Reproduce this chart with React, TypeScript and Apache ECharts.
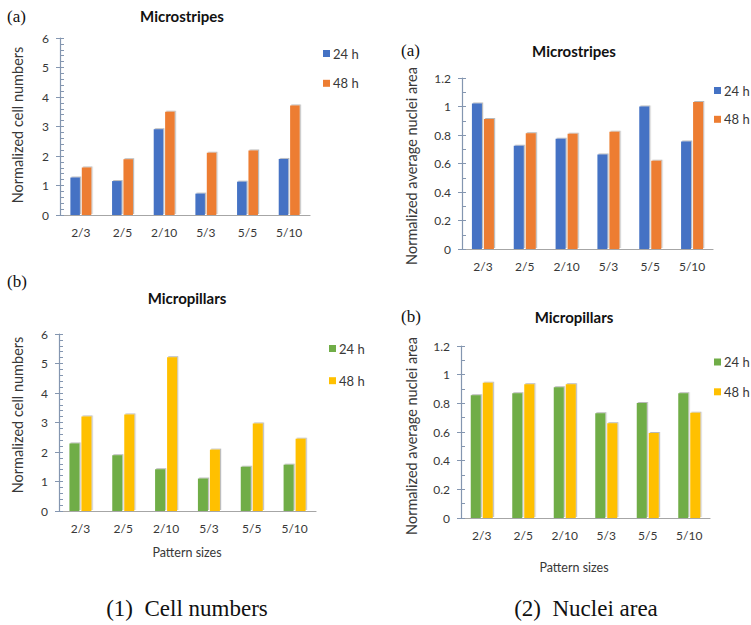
import React, { useEffect, useRef } from "react";
import * as echarts from "echarts";

const categories = ["2/3", "2/5", "2/10", "5/3", "5/5", "5/10"];
const seriesNames = ["24 h", "48 h"];

const cellStripes24 = [1.27, 1.15, 2.91, 0.725, 1.13, 1.9];
const cellStripes48 = [1.61, 1.89, 3.5, 2.11, 2.19, 3.71];
const cellPillars24 = [2.29, 1.89, 1.415, 1.1, 1.5, 1.57];
const cellPillars48 = [3.2, 3.27, 5.21, 2.08, 2.97, 2.45];
const nucStripes24 = [1.021, 0.725, 0.774, 0.664, 1.0, 0.755];
const nucStripes48 = [0.913, 0.812, 0.809, 0.822, 0.62, 1.031];
const nucPillars24 = [0.856, 0.87, 0.912, 0.731, 0.802, 0.87];
const nucPillars48 = [0.944, 0.933, 0.933, 0.661, 0.593, 0.735];

const cellTicks = { min: 0, max: 6, interval: 1, minorSplit: 5 };
const nucTicks = { min: 0, max: 1.2, interval: 0.2, minorSplit: 2 };

const BLUE = "#4472C4";
const ORANGE = "#ED7D31";
const GREEN = "#70AD47";
const YELLOW = "#FFC000";

const SANS = "Lato, 'Noto Sans', sans-serif";
const SERIF = "'Liberation Serif', 'DejaVu Serif', serif";
const TXT = "#383838";

type Panel = {
  grid: { left: number; top: number; width: number; height: number };
  ticks: typeof cellTicks;
  s24: number[];
  s48: number[];
  c24: string;
  c48: string;
  barWidth: number;
  legend: { left: number; top: number; gap: number };
};

const panels: Panel[] = [
  {
    grid: { left: 60, top: 38, width: 250, height: 177 },
    ticks: cellTicks,
    s24: cellStripes24,
    s48: cellStripes48,
    c24: BLUE,
    c48: ORANGE,
    barWidth: 9.5,
    legend: { left: 323, top: 47, gap: 16.8 },
  },
  {
    grid: { left: 462, top: 78, width: 251, height: 171 },
    ticks: nucTicks,
    s24: nucStripes24,
    s48: nucStripes48,
    c24: BLUE,
    c48: ORANGE,
    barWidth: 10,
    legend: { left: 714, top: 84, gap: 15.8 },
  },
  {
    grid: { left: 59, top: 334, width: 257, height: 177 },
    ticks: cellTicks,
    s24: cellPillars24,
    s48: cellPillars48,
    c24: GREEN,
    c48: YELLOW,
    barWidth: 10,
    legend: { left: 329, top: 342, gap: 19.2 },
  },
  {
    grid: { left: 461, top: 346, width: 249, height: 172 },
    ticks: nucTicks,
    s24: nucPillars24,
    s48: nucPillars48,
    c24: GREEN,
    c48: YELLOW,
    barWidth: 10,
    legend: { left: 714, top: 355.5, gap: 16.8 },
  },
];

const panelTitles = [
  { text: "Microstripes", x: 182, y: 16 },
  { text: "Microstripes", x: 574, y: 51 },
  { text: "Micropillars", x: 187, y: 298 },
  { text: "Micropillars", x: 574, y: 317 },
];
const panelLetters = [
  { text: "(a)", x: 7, y: 16 },
  { text: "(a)", x: 401, y: 50 },
  { text: "(b)", x: 7, y: 281 },
  { text: "(b)", x: 401, y: 316 },
];
const yTitles = [
  { text: "Normalized cell numbers", x: 17, y: 125 },
  { text: "Normalized average nuclei area", x: 411, y: 166 },
  { text: "Normalized cell numbers", x: 17, y: 415 },
  { text: "Normalized average nuclei area", x: 411, y: 436 },
];
const xTitles = [
  { text: "Pattern sizes", x: 187, y: 552 },
  { text: "Pattern sizes", x: 574, y: 567 },
];
const captions = [
  { text: "(1)  Cell numbers", x: 187, y: 608 },
  { text: "(2)  Nuclei area", x: 586, y: 608 },
];

function buildOption() {
  const grid: any[] = [];
  const xAxis: any[] = [];
  const yAxis: any[] = [];
  const series: any[] = [];
  const legend: any[] = [];

  panels.forEach((p, i) => {
    grid.push({ ...p.grid, containLabel: false });
    xAxis.push({
      type: "category",
      gridIndex: i,
      data: categories,
      axisLine: { show: true, lineStyle: { color: "#A6A6A6", width: 1.2 } },
      axisTick: { show: false },
      axisLabel: { color: TXT, fontFamily: SANS, fontSize: 12, margin: 11 },
      splitLine: { show: false },
    });
    yAxis.push({
      type: "value",
      gridIndex: i,
      min: p.ticks.min,
      max: p.ticks.max,
      interval: p.ticks.interval,
      axisLine: { show: true, lineStyle: { color: "#8496B0", width: 1.2 } },
      axisTick: { show: true, inside: true, length: 4, lineStyle: { color: "#8496B0" } },
      minorTick: {
        show: true,
        splitNumber: p.ticks.minorSplit,
        length: 4,
        lineStyle: { color: "#8496B0" },
      },
      axisLabel: { color: TXT, fontFamily: SANS, fontSize: 12, margin: 11 },
      splitLine: { show: false },
      minorSplitLine: { show: false },
    });
    yAxis.push({
      type: "value",
      gridIndex: i,
      position: "left",
      min: p.ticks.min,
      max: p.ticks.max,
      interval: p.ticks.interval,
      axisLine: { show: false },
      axisTick: { show: true, inside: false, length: 4, lineStyle: { color: "#8496B0" } },
      axisLabel: { show: false },
      splitLine: { show: false },
    });
    const mk = (name: string, data: number[], color: string) => ({
      type: "bar",
      name,
      xAxisIndex: i,
      yAxisIndex: i * 2,
      data,
      barWidth: p.barWidth,
      barGap: "20%",
      itemStyle: {
        color,
        shadowColor: "rgba(0,0,0,0.28)",
        shadowOffsetX: 1.2,
        shadowOffsetY: -1,
        shadowBlur: 0.5,
      },
    });
    series.push(mk(seriesNames[0], p.s24, p.c24));
    series.push(mk(seriesNames[1], p.s48, p.c48));
    legend.push({
      orient: "vertical",
      left: p.legend.left,
      top: p.legend.top,
      padding: 0,
      itemWidth: 7,
      itemHeight: 7,
      itemGap: p.legend.gap,
      icon: "rect",
      selectedMode: false,
      textStyle: {
        color: TXT,
        fontFamily: SANS,
        fontSize: 13,
        padding: [0, 0, 0, -2],
      },
      data: [
        { name: seriesNames[0], itemStyle: { color: p.c24 } },
        { name: seriesNames[1], itemStyle: { color: p.c48 } },
      ],
    });
  });

  const graphic: any[] = [];
  panelTitles.forEach((t) =>
    graphic.push({
      type: "text",
      x: t.x,
      y: t.y,
      style: {
        text: t.text,
        fill: "#111",
        font: `bold 15px ${SANS}`,
        textAlign: "center",
        textVerticalAlign: "middle",
      },
    })
  );
  panelLetters.forEach((t) =>
    graphic.push({
      type: "text",
      x: t.x,
      y: t.y,
      style: {
        text: t.text,
        fill: "#111",
        font: `17px ${SERIF}`,
        textAlign: "left",
        textVerticalAlign: "middle",
      },
    })
  );
  yTitles.forEach((t) =>
    graphic.push({
      type: "text",
      x: t.x,
      y: t.y,
      rotation: Math.PI / 2,
      style: {
        text: t.text,
        fill: TXT,
        font: `14.5px ${SANS}`,
        textAlign: "center",
        textVerticalAlign: "middle",
      },
    })
  );
  xTitles.forEach((t) =>
    graphic.push({
      type: "text",
      x: t.x,
      y: t.y,
      style: {
        text: t.text,
        fill: TXT,
        font: `12.5px ${SANS}`,
        textAlign: "center",
        textVerticalAlign: "middle",
      },
    })
  );
  captions.forEach((t) =>
    graphic.push({
      type: "text",
      x: t.x,
      y: t.y,
      style: {
        text: t.text,
        fill: "#111",
        font: `23px ${SERIF}`,
        textAlign: "center",
        textVerticalAlign: "middle",
      },
    })
  );

  return {
    animation: false,
    backgroundColor: "#ffffff",
    grid,
    xAxis,
    yAxis,
    series,
    legend,
    graphic,
  };
}

export default function App() {
  const ref = useRef<HTMLDivElement>(null);
  useEffect(() => {
    if (!ref.current) return;
    const chart = echarts.init(ref.current, undefined, { renderer: "svg" });
    chart.setOption(buildOption());
    return () => chart.dispose();
  }, []);
  return (
    <div
      ref={ref}
      style={{ position: "absolute", left: 0, top: 0, width: 751, height: 625 }}
    />
  );
}
